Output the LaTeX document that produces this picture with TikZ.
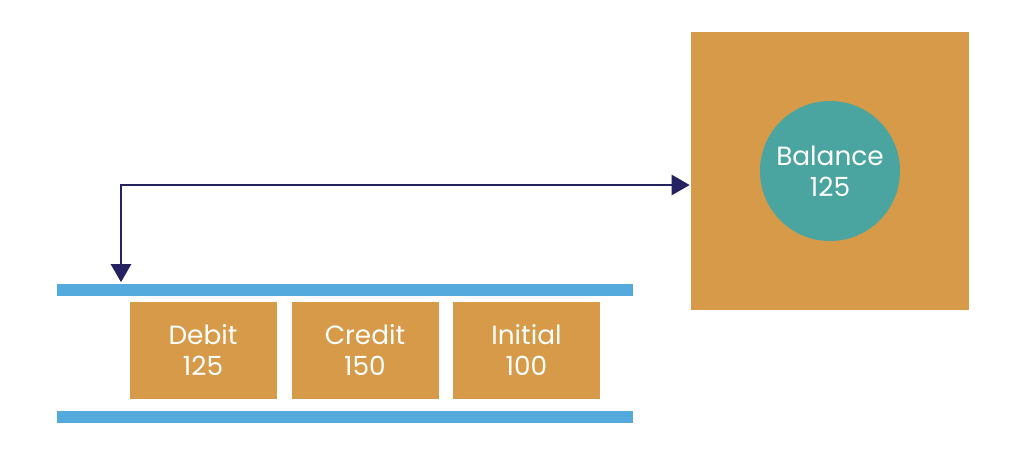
\documentclass[tikz,border=0pt]{standalone}
\usepackage{fontspec}
\setmainfont{Poppins}
\usepackage{xcolor}
\usetikzlibrary{arrows.meta}

\definecolor{boxorange}{HTML}{D69A48}
\definecolor{ballteal}{HTML}{4AA5A0}
\definecolor{barblue}{HTML}{55AADD}
\definecolor{linknavy}{HTML}{262262}

\begin{document}
\begin{tikzpicture}[
        > = {Triangle[length=0.36cm, width=0.4cm]}, % arrow head style
        line width = 1.5pt, % line style
        entry/.style = {rectangle, fill=boxorange, minimum width=2.94cm,
            minimum height=1.94cm, text=white, align=center,
            font=\fontsize{15}{17.6}\selectfont},
        bar/.style = {rectangle, fill=barblue, minimum width=11.52cm,
            minimum height=0.24cm, inner sep=0pt},
    ]
        \useasboundingbox (0,0) rectangle (20.48,-9.14);

        % Draw the bars
        \node[bar] (topbar) at (6.9,-5.79) {};
        \node[bar] (botbar) at (6.9,-8.33) {};

        % Draw the entries
        \foreach \pos/\i/\t/\v in {
            (4.06,-7.00)/debit/Debit/125,
            (7.30,-7.00)/credit/Credit/150,
            (10.53,-7.00)/initial/Initial/100} {
            \node[entry] (\i) at \pos {\t\\\v};
        }

        % Draw the balance
        \node[rectangle, fill=boxorange, minimum size=5.56cm] (balbox) at (16.6,-3.42) {};
        \node[circle, fill=ballteal, minimum size=2.8cm, text=white, align=center,
            font=\fontsize{15}{17.6}\selectfont] (balance) at (balbox) {Balance\\125};

        % Draw the link
        \coordinate (bend) at (2.42,-3.70);
        \draw[<->, linknavy] (topbar.north -| bend) |- (bend -| balbox.west);
    \end{tikzpicture}
\end{document}
